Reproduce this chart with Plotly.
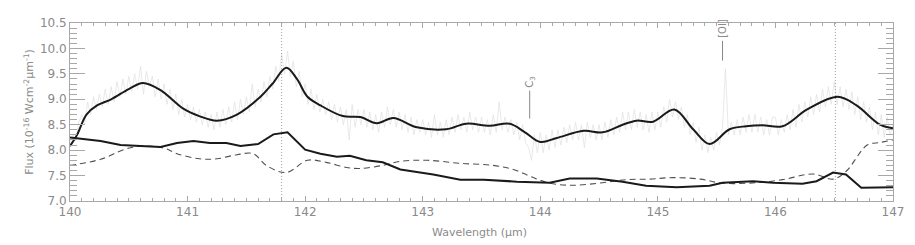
import plotly.graph_objects as go

# ---------------- data ----------------
# observed (noisy) spectrum, wavelength grid 140.000 .. 147.000 step 0.025
obs_wl_start = 140.0
obs_wl_step = 0.025
obs_flux = [
    8.10, 8.32, 8.18, 8.55, 8.70, 8.52, 8.95, 8.70, 9.05, 8.80, 9.10, 8.85, 9.20, 8.90, 9.25, 8.95, 9.35, 9.05, 9.40, 9.10,
    9.45, 9.15, 9.50, 9.20, 9.65, 9.10, 9.55, 9.25, 9.45, 9.05, 9.40, 9.00, 9.30, 8.90, 9.20, 8.80, 9.10, 8.70, 9.00, 8.65,
    8.90, 8.60, 8.85, 8.55, 8.80, 8.50, 8.75, 8.45, 8.70, 8.40, 8.75, 8.45, 8.80, 8.50, 8.85, 8.55, 8.95, 8.60, 9.00, 8.70,
    9.05, 8.75, 9.30, 8.85, 9.20, 8.95, 9.35, 9.05, 9.45, 9.20, 9.65, 9.35, 9.90, 9.50, 9.95, 9.45, 9.75, 9.25, 9.55, 9.05,
    9.30, 8.90, 9.20, 8.80, 9.10, 8.75, 9.00, 8.70, 8.95, 8.60, 8.90, 8.55, 8.85, 8.50, 8.80, 8.20, 8.90, 8.45, 8.80, 8.50,
    8.80, 8.45, 8.75, 8.40, 8.70, 8.35, 8.75, 8.45, 8.85, 8.50, 8.80, 8.45, 8.75, 8.40, 8.70, 8.35, 8.65, 8.30, 8.60, 8.35,
    8.60, 8.30, 8.55, 8.25, 8.70, 8.30, 8.55, 8.25, 8.60, 8.30, 8.65, 8.35, 8.70, 8.40, 8.65, 8.35, 8.75, 8.40, 8.65, 8.35,
    8.65, 8.35, 8.60, 8.30, 8.70, 8.35, 8.95, 8.40, 8.65, 8.35, 8.60, 8.30, 8.55, 8.20, 8.50, 8.15, 8.05, 7.80, 8.30, 7.95,
    8.35, 7.95, 8.30, 8.00, 8.40, 8.05, 8.40, 8.10, 8.45, 8.15, 8.50, 8.20, 8.55, 8.20, 8.50, 8.05, 8.55, 8.25, 8.50, 8.20,
    8.50, 8.20, 8.55, 8.25, 8.60, 8.30, 8.65, 8.35, 8.75, 8.40, 8.75, 8.40, 8.80, 8.45, 8.75, 8.40, 8.70, 8.35, 8.75, 8.40,
    8.75, 8.45, 8.85, 8.55, 9.00, 8.65, 8.95, 8.60, 8.85, 8.45, 8.70, 8.30, 8.55, 8.15, 8.45, 8.00, 8.30, 7.95, 8.25, 8.00,
    8.35, 8.10, 8.45, 9.60, 8.30, 8.55, 8.30, 8.60, 8.30, 8.65, 8.35, 8.70, 8.35, 8.70, 8.35, 8.65, 8.30, 8.60, 8.30, 8.65,
    8.65, 8.30, 8.60, 8.35, 8.70, 8.40, 8.80, 8.45, 8.90, 8.55, 8.95, 8.65, 9.05, 8.70, 9.10, 8.75, 9.20, 8.85, 9.25, 8.90,
    9.35, 8.90, 9.25, 8.85, 9.20, 8.80, 9.15, 8.70, 9.05, 8.60, 8.95, 8.55, 8.85, 8.40, 8.75, 8.30, 8.70, 8.25, 8.65, 8.30, 8.50,
]
obs_wl = [round(obs_wl_start + i * obs_wl_step, 3) for i in range(len(obs_flux))]

# smoothed observed spectrum
fit_wl = [140.00, 140.06, 140.14, 140.23, 140.35, 140.50, 140.62, 140.77, 140.96, 141.10, 141.25, 141.42,
          141.62, 141.72, 141.84, 141.93, 142.02, 142.13, 142.32, 142.47, 142.61, 142.75, 142.95, 143.20,
          143.37, 143.57, 143.74, 143.87, 144.00, 144.14, 144.37, 144.53, 144.70, 144.82, 144.96, 145.14,
          145.30, 145.44, 145.61, 145.75, 145.89, 146.06, 146.27, 146.53, 146.69, 146.89, 147.00]
fit_flux = [8.08, 8.30, 8.70, 8.88, 9.00, 9.20, 9.32, 9.18, 8.82, 8.67, 8.58, 8.70,
            9.05, 9.30, 9.62, 9.40, 9.05, 8.88, 8.67, 8.65, 8.53, 8.63, 8.45, 8.41,
            8.52, 8.48, 8.52, 8.35, 8.16, 8.24, 8.38, 8.35, 8.50, 8.58, 8.56, 8.80,
            8.41, 8.12, 8.41, 8.47, 8.49, 8.47, 8.80, 9.05, 8.88, 8.50, 8.43]

# model 1 (solid)
mod1_wl = [140.00, 140.26, 140.43, 140.77, 140.91, 141.05, 141.19, 141.33, 141.45, 141.60, 141.73, 141.85,
           142.00, 142.13, 142.27, 142.38, 142.52, 142.66, 142.81, 143.09, 143.32, 143.52, 143.80, 144.08,
           144.25, 144.48, 144.70, 144.90, 145.16, 145.44, 145.55, 145.81, 145.98, 146.23, 146.35, 146.49,
           146.60, 146.73, 147.00]
mod1_flux = [8.25, 8.18, 8.10, 8.06, 8.14, 8.18, 8.14, 8.14, 8.08, 8.12, 8.31, 8.35,
             8.01, 7.93, 7.87, 7.89, 7.80, 7.76, 7.62, 7.52, 7.42, 7.42, 7.38, 7.36,
             7.44, 7.44, 7.38, 7.30, 7.27, 7.30, 7.36, 7.39, 7.36, 7.34, 7.39, 7.56,
             7.52, 7.26, 7.27]

# model 2 (dashed)
mod2_wl = [140.00, 140.26, 140.47, 140.62, 140.80, 140.91, 141.10, 141.25, 141.42, 141.56, 141.67, 141.84,
           142.02, 142.18, 142.35, 142.47, 142.66, 142.81, 143.04, 143.32, 143.60, 143.77, 143.91, 144.08,
           144.28, 144.53, 144.73, 144.93, 145.13, 145.36, 145.55, 145.84, 146.06, 146.32, 146.49, 146.60,
           146.78, 146.89, 147.00]
mod2_flux = [7.70, 7.82, 8.02, 8.08, 8.04, 7.93, 7.83, 7.83, 7.91, 7.93, 7.70, 7.56,
             7.80, 7.76, 7.66, 7.64, 7.70, 7.78, 7.80, 7.74, 7.70, 7.62, 7.49, 7.35,
             7.31, 7.36, 7.42, 7.43, 7.46, 7.43, 7.35, 7.36, 7.42, 7.53, 7.43, 7.58,
             8.10, 8.15, 8.20]

# vertical reference lines (dotted)
ref_wl = [141.80, 146.51]

# line identifications
id_labels = ["C<sub>3</sub>", "[OI]"]
id_wl = [143.91, 145.55]
id_ybot = [8.62, 9.76]
id_ytop = [9.17, 10.15]

x_range = [140, 147]
y_range = [7.0, 10.5]

x_title = "Wavelength (μm)"
y_title = "Flux (10<sup>-16</sup> Wcm<sup>-2</sup>μm<sup>-1</sup>)"

GREY = "#8a8a8a"
FONT = "DejaVu Sans"

# ---------------- figure ----------------
fig = go.Figure()

fig.add_trace(go.Scatter(x=obs_wl, y=obs_flux, mode="lines",
                         line=dict(color="#e0e0e0", width=0.7), showlegend=False, hoverinfo="skip"))

for w in ref_wl:
    fig.add_trace(go.Scatter(x=[w, w], y=y_range, mode="lines",
                             line=dict(color="#a0a0a0", width=1, dash="1px,2px"), showlegend=False))

fig.add_trace(go.Scatter(x=mod2_wl, y=mod2_flux, mode="lines", line_shape="spline",
                         line=dict(color="#505050", width=1.1, dash="6px,4px"), showlegend=False))
fig.add_trace(go.Scatter(x=mod1_wl, y=mod1_flux, mode="lines",
                         line=dict(color="#1a1a1a", width=2), showlegend=False))
fig.add_trace(go.Scatter(x=fit_wl, y=fit_flux, mode="lines", line_shape="spline",
                         line=dict(color="#1a1a1a", width=2), showlegend=False))

for lab, w, yb, yt in zip(id_labels, id_wl, id_ybot, id_ytop):
    fig.add_trace(go.Scatter(x=[w, w], y=[yb, yt], mode="lines",
                             line=dict(color="#888888", width=1), showlegend=False))
    fig.add_annotation(x=w, y=yt, xref="x", yref="y", text=lab, showarrow=False,
                       textangle=-90, yanchor="bottom", xanchor="center", yshift=1,
                       font=dict(family=FONT, size=10, color=GREY))

axis_common = dict(showline=True, linecolor="#a8a8a8", linewidth=1, mirror="ticks",
                   ticks="inside", tickcolor="#a8a8a8", showgrid=False, zeroline=False,
                   automargin=False,
                   tickfont=dict(family=FONT, size=12, color=GREY))

fig.update_xaxes(range=x_range, dtick=1, tick0=140, ticklen=5,
                 minor=dict(dtick=0.1, ticklen=3, ticks="inside", tickcolor="#a8a8a8"),
                 **axis_common)
fig.update_yaxes(range=y_range, dtick=0.5, tick0=7.0, tickformat=".1f", ticklen=15,
                 minor=dict(dtick=0.1, ticklen=7, ticks="inside", tickcolor="#a8a8a8"),
                 **axis_common)

fig.add_annotation(text=x_title, xref="paper", yref="paper", x=0.498, y=-0.175,
                   xanchor="center", yanchor="middle", showarrow=False,
                   font=dict(family=FONT, size=11, color=GREY))
fig.add_annotation(text=y_title, xref="paper", yref="paper", x=-0.05, y=0.5,
                   xanchor="center", yanchor="middle", textangle=-90, showarrow=False,
                   font=dict(family=FONT, size=11, color=GREY))

fig.update_layout(width=915, height=245, margin=dict(l=70, r=22, t=23, b=44, autoexpand=False),
                  plot_bgcolor="white", paper_bgcolor="white")

fig.write_html("out.html", config={"displayModeBar": False},
               post_script="document.body.style.margin='0';document.body.style.overflow='hidden';")
